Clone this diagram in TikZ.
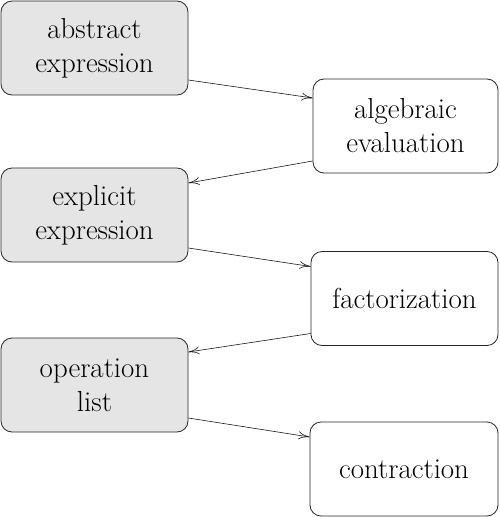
\documentclass[tikz,border=0pt]{standalone}
\usepackage{fontspec}
\usetikzlibrary{arrows.meta,calc}
\begin{document}
\begin{tikzpicture}[x=1pt,y=1pt,
  box/.style={draw=black!85,line width=0.8pt,rounded corners=11pt,minimum height=94pt,
    align=center,inner sep=0pt,font=\fontsize{28.9}{34}\selectfont},
  gbox/.style={box,fill=black!10,minimum width=187pt},
  wbox/.style={box,fill=white},
  conn/.style={line width=0.6pt,draw=black!90,-{To[length=11pt,width=8pt]}}]
\useasboundingbox (0,0) rectangle (500,-517);
\node[gbox] (a) at (94.5,-48) {abstract\\expression};
\node[wbox,minimum width=185pt] (b) at (405.5,-126) {algebraic\\evaluation};
\node[gbox] (c) at (94.5,-215) {explicit\\expression};
\node[wbox,minimum width=187pt] (d) at (404.5,-298.5) {factorization};
\node[gbox] (e) at (94.5,-385) {operation\\list};
\node[wbox,minimum width=188pt] (f) at (404,-469) {contraction};
\draw[conn] ([yshift=-32pt]a.east) -- ([yshift=28pt]b.west);
\draw[conn] ([yshift=-35pt]b.west) -- ([yshift=32pt]c.east);
\draw[conn] ([yshift=-33pt]c.east) -- ([yshift=32pt]d.west);
\draw[conn] ([yshift=-35pt]d.west) -- ([yshift=33pt]e.east);
\draw[conn] ([yshift=-33pt]e.east) -- ([yshift=32pt]f.west);
\end{tikzpicture}
\end{document}
